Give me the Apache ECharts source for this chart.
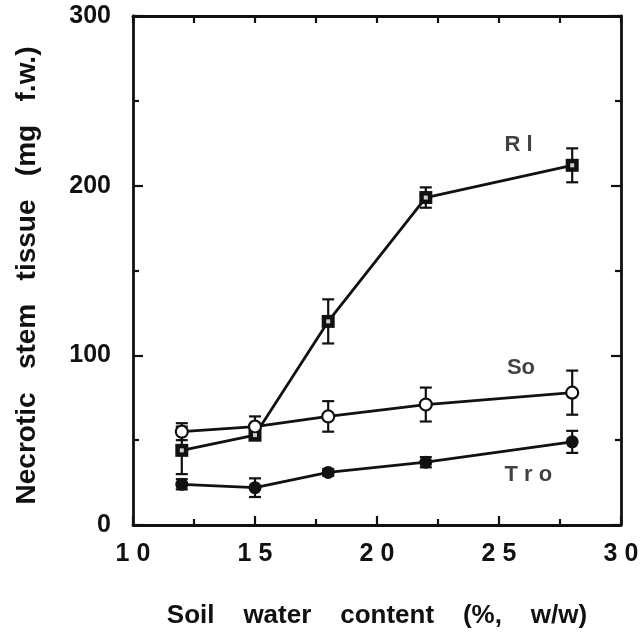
<!DOCTYPE html>
<html>
<head>
<meta charset="utf-8">
<script src="https://cdn.jsdelivr.net/npm/echarts@6/dist/echarts.min.js"></script>
<style>
html,body{margin:0;padding:0;background:#fff;}
#chart{width:641px;height:632px;}
</style>
</head>
<body>
<div id="chart"></div>
<script>
// ---- data ----
const xValues = [12, 15, 18, 22, 28];
const rlMean = [44, 53, 120, 193, 212];
const rlErr = [14, 3, 13, 6, 10];
const soMean = [55, 58, 64, 71, 78];
const soErr = [5, 6, 9, 10, 13];
const troMean = [24, 22, 31, 37, 49];
const troErr = [3, 5.5, 2, 3, 6.5];
const xTickValues = [10, 15, 20, 25, 30];
const xTickLabels = ['1 0', '1 5', '2 0', '2 5', '3 0'];
const yTickValues = [0, 100, 200, 300];
const yTickLabels = ['0', '100', '200', '300'];
const seriesNames = ['R l', 'So', 'T r o'];
const seriesLabelPos = [[25.8, 224], [25.9, 92.5], [26.2, 29.5]];

const FONT = '"Liberation Sans", Arial, Helvetica, sans-serif';
const INK = '#111';

function pts(means) { return xValues.map((x, i) => [x, means[i]]); }
function errs(means, e) { return xValues.map((x, i) => [x, means[i] - e[i], means[i] + e[i]]); }

function errRender(params, api) {
  const x = api.value(0), lo = api.value(1), hi = api.value(2);
  const a = api.coord([x, lo]), b = api.coord([x, hi]);
  const w = 6;
  const st = { stroke: INK, lineWidth: 2.2 };
  return {
    type: 'group',
    children: [
      { type: 'line', shape: { x1: a[0], y1: a[1], x2: b[0], y2: b[1] }, style: st },
      { type: 'line', shape: { x1: a[0] - w, y1: a[1], x2: a[0] + w, y2: a[1] }, style: st },
      { type: 'line', shape: { x1: b[0] - w, y1: b[1], x2: b[0] + w, y2: b[1] }, style: st }
    ]
  };
}

const chart = echarts.init(document.getElementById('chart'), null, { renderer: 'canvas' });

const axisLine = { show: true, onZero: false, lineStyle: { color: INK, width: 2.8 } };

const option = {
  backgroundColor: '#fff',
  animation: false,
  grid: { left: 133, right: 20, top: 16, bottom: 107, containLabel: false, outerBoundsMode: 'none' },
  xAxis: [
    {
      type: 'value', min: 10, max: 30, interval: 5,
      axisLine: axisLine,
      axisTick: { show: true, inside: true, length: 9, lineStyle: { color: INK, width: 2.2 } },
      minorTick: { show: true, splitNumber: 2, length: 6, lineStyle: { color: INK, width: 2.2 } },
      splitLine: { show: false },
      axisLabel: {
        margin: 17, color: INK, fontFamily: FONT, fontWeight: 'bold', fontSize: 25,
        formatter: v => { const i = xTickValues.indexOf(v); return i >= 0 ? xTickLabels[i] : ''; }
      },
      name: 'Soil    water    content    (%,    w/w)',
      nameLocation: 'middle', nameGap: 78,
      nameTextStyle: { color: INK, fontFamily: FONT, fontWeight: 'bold', fontSize: 26 }
    },
    {
      type: 'value', min: 10, max: 30, interval: 2.5, position: 'top', gridIndex: 0,
      axisLine: axisLine,
      axisTick: { show: true, inside: true, length: 7, lineStyle: { color: INK, width: 2.2 } },
      axisLabel: { show: false }, splitLine: { show: false }
    }
  ],
  yAxis: [
    {
      type: 'value', min: 0, max: 300, interval: 100,
      axisLine: axisLine,
      axisTick: { show: true, inside: true, length: 10, lineStyle: { color: INK, width: 2.2 } },
      minorTick: { show: true, splitNumber: 2, length: 6, lineStyle: { color: INK, width: 2.2 } },
      splitLine: { show: false },
      axisLabel: {
        margin: 22, color: INK, fontFamily: FONT, fontWeight: 'bold', fontSize: 25,
        formatter: v => { const i = yTickValues.indexOf(v); return i >= 0 ? yTickLabels[i] : ''; }
      },
      name: 'Necrotic   stem   tissue   (mg   f.w.)',
      nameLocation: 'middle', nameGap: 92,
      nameTextStyle: { color: INK, fontFamily: FONT, fontWeight: 'bold', fontSize: 28, padding: [0, 10, 0, 0] }
    },
    {
      type: 'value', min: 0, max: 300, interval: 100, position: 'right', gridIndex: 0,
      axisLine: axisLine,
      axisTick: { show: true, inside: true, length: 10, lineStyle: { color: INK, width: 2.2 } },
      minorTick: { show: true, splitNumber: 2, length: 6, lineStyle: { color: INK, width: 2.2 } },
      axisLabel: { show: false }, splitLine: { show: false }
    }
  ],
  series: [
    { type: 'custom', renderItem: errRender, data: errs(rlMean, rlErr), z: 2, encode: { x: 0, y: [1, 2] } },
    { type: 'custom', renderItem: errRender, data: errs(soMean, soErr), z: 2, encode: { x: 0, y: [1, 2] } },
    { type: 'custom', renderItem: errRender, data: errs(troMean, troErr), z: 2, encode: { x: 0, y: [1, 2] } },
    {
      name: 'Rl', type: 'line', data: pts(rlMean), z: 3,
      symbol: 'rect', symbolSize: 13, showAllSymbol: true,
      lineStyle: { color: INK, width: 2.8 },
      itemStyle: { color: INK, borderColor: INK, borderWidth: 0 }
    },
    {
      name: 'Rl-center', type: 'scatter', data: pts(rlMean), z: 4,
      symbol: 'rect', symbolSize: 4, itemStyle: { color: '#fff' }
    },
    {
      name: 'So', type: 'line', data: pts(soMean), z: 3,
      symbol: 'circle', symbolSize: 12, showAllSymbol: true,
      lineStyle: { color: INK, width: 2.8 },
      itemStyle: { color: '#fff', borderColor: INK, borderWidth: 2.2 }
    },
    {
      name: 'Tro', type: 'line', data: pts(troMean), z: 3,
      symbol: 'circle', symbolSize: 13, showAllSymbol: true,
      lineStyle: { color: INK, width: 2.8 },
      itemStyle: { color: INK, borderColor: INK, borderWidth: 0 }
    },
    {
      name: 'labels', type: 'scatter', symbolSize: 0, z: 5,
      data: seriesNames.map((n, i) => ({ value: seriesLabelPos[i], name: n })),
      label: {
        show: true, position: 'inside', formatter: p => p.name,
        color: INK, fontFamily: FONT, fontWeight: 'bold', fontSize: 22
      }
    }
  ]
};
chart.setOption(option);
</script>
</body>
</html>
